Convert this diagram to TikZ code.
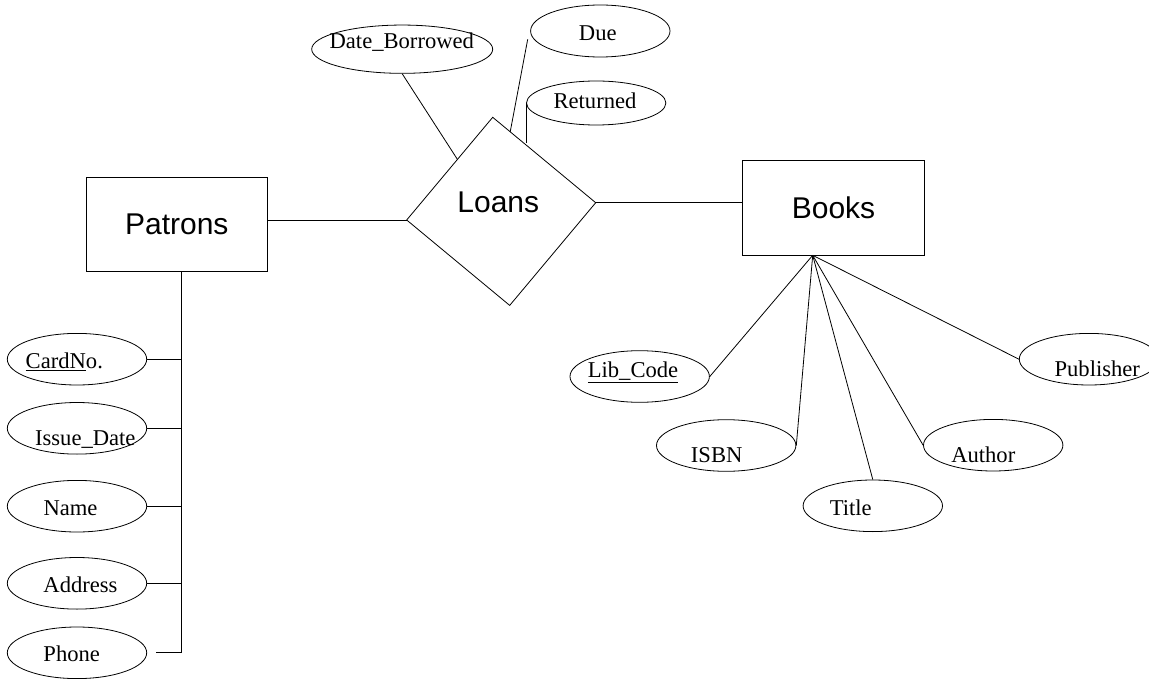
\documentclass[tikz,border=0pt]{standalone}
\usepackage{fontspec}
\setmainfont{Liberation Serif}
\setsansfont{Liberation Sans}
\usetikzlibrary{shapes.geometric,calc}

\begin{document}
\begin{tikzpicture}[x=1pt,y=1pt,yscale=-1,xscale=1,line width=0.8pt,
	entity/.style={draw, rectangle, inner sep=0pt, minimum width=181.7pt, minimum height=94.5pt, font=\sffamily\fontsize{30}{36}\selectfont},
	attr/.style={draw, ellipse, inner sep=0pt, minimum width=139.4pt, minimum height=51.6pt},
	lbl/.style={anchor=base, inner sep=0pt, font=\fontsize{22.6}{27}\selectfont},
	relname/.style={lbl, font=\sffamily\fontsize{30}{36}\selectfont}]
				\useasboundingbox (0,0) rectangle (1149,679);
				\clip (0,0) rectangle (1149,679);

				%Shape: Entities
				\node [entity] (patrons) at (176.8,224.5) {Patrons};
				\node [entity] (books) at (833.5,207.7) {Books};

				%Shape: Relationship diamond
				\coordinate (lw) at (406.7,220);
				\coordinate (lt) at (492.7,117.3);
				\coordinate (lr) at (595.7,202.7);
				\coordinate (lb) at (509.7,305.4);
				\draw (lw) -- (lt) -- (lr) -- (lb) -- cycle;
				\node [relname] (tloans) at (498.3,212.3) {Loans};

				%Shape: Attributes of Loans
				\node [attr, minimum width=181pt, minimum height=48.3pt] (dborr) at (402.2,49.2) {};
				\node [attr, minimum height=52pt] (due) at (600.3,31) {};
				\node [attr, minimum height=44pt] (ret) at (596.2,103) {};

				%Shape: Attributes of Patrons
				\node [attr] (cardno) at (77,359.2) {};
				\node [attr] (issue) at (77,428.3) {};
				\node [attr] (name) at (77,506.2) {};
				\node [attr] (address) at (77,583.3) {};
				\node [attr] (phone) at (77,652.8) {};

				%Shape: Attributes of Books
				\node [attr] (libcode) at (639.7,376.5) {};
				\node [attr] (isbn) at (726.2,445.5) {};
				\node [attr] (title) at (872.8,505.8) {};
				\node [attr] (author) at (993.2,445.2) {};
				\node [attr] (publisher) at (1089,359.2) {};

				% Text Node
				\node [lbl] (tdborr) at (401.8,48.3) {Date\_Borrowed};
				\node [lbl] (tdue) at (597.8,40.7) {Due};
				\node [lbl] (tret) at (595,109) {Returned};
				\node [lbl] (tcardno) at (64.3,368.3) {\underline{CardN}o.};
				\node [lbl] (tissue) at (85.3,445) {Issue\_Date};
				\node [lbl] (tname) at (70.5,515) {Name};
				\node [lbl] (taddress) at (80.5,592.7) {Address};
				\node [lbl] (tphone) at (71.7,661.7) {Phone};
				\node [lbl] (tlibcode) at (633,377.7) {\underline{Lib\_Code}};
				\node [lbl] (tisbn) at (716.7,462.7) {ISBN};
				\node [lbl] (ttitle) at (850.8,515) {Title};
				\node [lbl] (tauthor) at (983.3,462.7) {Author};
				\node [lbl] (tpublisher) at (1097.3,376.7) {Publisher};

				%Straight Lines: relationship
				\draw (patrons.east |- lw) -- (lw);
				\draw (lr) -- (books.west |- lr);

				%Straight Lines: Loans attributes
				\coordinate (borrfoot) at ($(lw)!0.59!(lt)$);
				\coordinate (duefoot) at ($(lt)!0.17!(lr)$);
				\coordinate (retfoot) at ($(lt)!0.30!(lr)$);
				\coordinate (duetop) at (527.7,39.3);
				\draw (dborr.south) -- (borrfoot);
				\draw (duetop) -- (duefoot);
				\draw (ret.west) -- (ret.west |- retfoot);

				%Straight Lines: Patrons attributes
				\coordinate (pstem) at (181.7,271.7);
				\draw (pstem) -- (pstem |- phone.east);
				\foreach \a in {cardno,issue,name,address}
					\draw (\a.east) -- (\a.east -| pstem);
				\draw ([xshift=9.3pt]phone.east) -- (phone.east -| pstem);

				%Straight Lines: Books attributes
				\coordinate (bfan) at (812.7,255.3);
				\foreach \a/\b in {libcode/east,isbn/east,title/north,author/west,publisher/west}
					\draw (bfan) -- (\a.\b);

\end{tikzpicture}
\end{document}
